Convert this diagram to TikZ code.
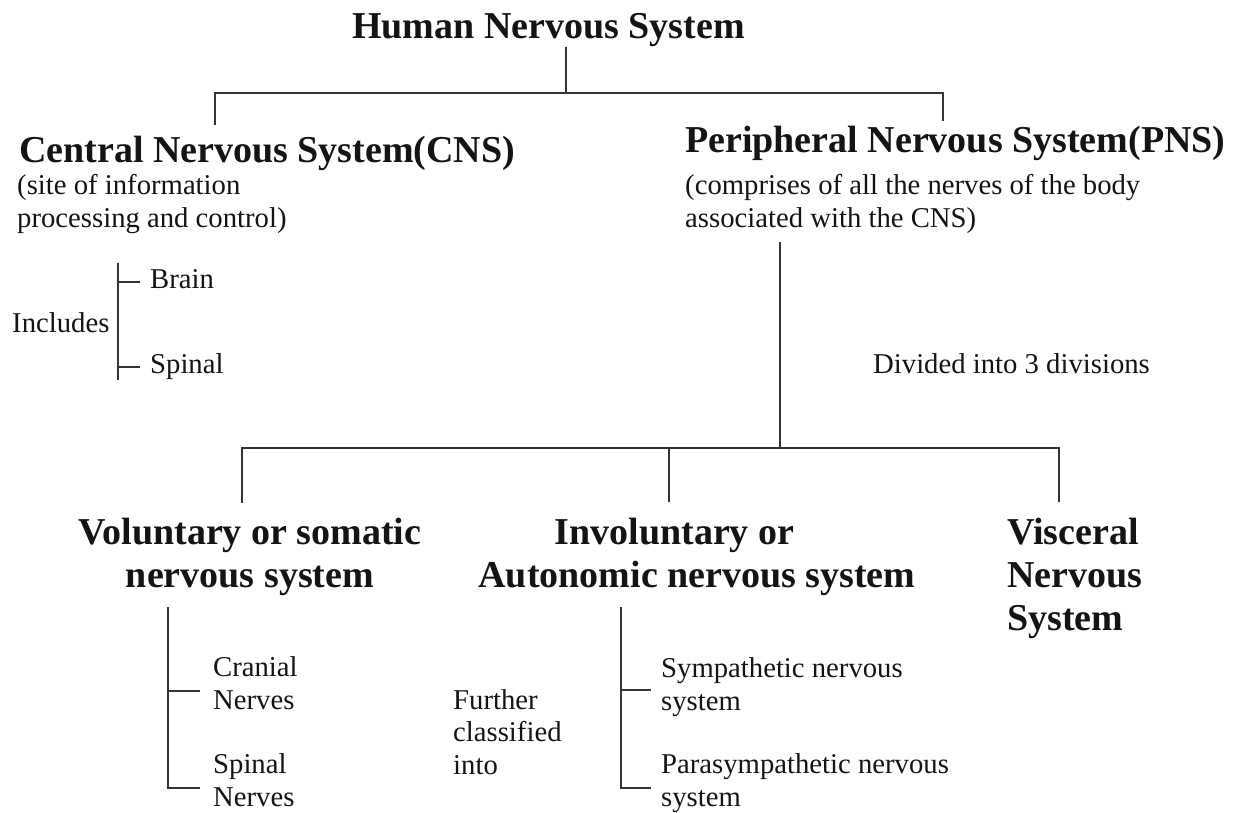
\documentclass[tikz,border=0pt]{standalone}
\usepackage{fontspec}
\setmainfont{Liberation Serif}
\definecolor{ink}{HTML}{141414}
\definecolor{wire}{HTML}{333333}
\begin{document}
\begin{tikzpicture}[x=1pt,y=-1pt,
  head/.style={font=\bfseries\fontsize{38}{43}\selectfont, inner sep=0pt, anchor=base west, align=left, text=ink},
  body/.style={font=\fontsize{28.7}{32.5}\selectfont, inner sep=0pt, anchor=base west, align=left, text=ink},
  link/.style={draw=wire, line width=1.8pt}]
\fill[white] (0,0) rectangle (1242,812);
\useasboundingbox (0,0) rectangle (1242,812);

% headings (multi-line nodes sit on the baseline of their last line)
\node[head] (hns) at (352,38) {Human Nervous System};
\node[head] (cns) at (19,162) {Central Nervous System(CNS)};
\node[head] (pns) at (685,152) {Peripheral Nervous System(PNS)};
\node[body] (cnsnote) at (17,227) {(site of information\\processing and control)};
\node[body] (pnsnote) at (685,227) {(comprises of all the nerves of the body\\associated with the CNS)};

% CNS parts
\node[body] (incl) at (12,332) {Includes};
\node[body] (brain) at (150,288) {Brain};
\node[body] (spinal) at (150,373) {Spinal};

\node[body] (divided) at (873,373) {Divided into 3 divisions};

% three divisions
\node[head, anchor=base, align=center] (som) at (250,587) {Voluntary or somatic\\nervous system};
\node[head, anchor=base, align=center] (aut) at (697,587) {Involuntary or\hspace*{45pt}\\Autonomic nervous system};
\node[head] (visc) at (1007,630) {Visceral\\Nervous\\System};

% sub-divisions
\node[body] (cran) at (213,709) {Cranial\\Nerves};
\node[body] (spn) at (213,806) {Spinal\\Nerves};
\node[body] (further) at (453,774) {Further\\classified\\into};
\node[body] (symp) at (661,710) {Sympathetic nervous\\system};
\node[body] (para) at (661,806) {Parasympathetic nervous\\system};

% tree: top level
\coordinate (hnsfoot) at (566,47);
\coordinate (split1) at (566,93);
\coordinate (cnstop) at (215,125);
\coordinate (pnstop) at (943,121);
\draw[link] (hnsfoot) -- (split1);
\draw[link] (cnstop) |- (split1) -| (pnstop);

% tree: PNS divisions
\coordinate (pnsfoot) at (780,242);
\coordinate (split2) at (780,448);
\coordinate (somtop) at (242,503);
\coordinate (auttop) at (669,502);
\coordinate (visctop) at (1059,502);
\draw[link] (pnsfoot) -- (split2);
\draw[link] (somtop) |- (split2) -| (visctop);
\draw[link] (auttop) -- (auttop |- split2);

% bracket: brain / spinal
\coordinate (b1top) at (118,263);
\coordinate (b1bot) at (118,380);
\draw[link] (b1top) -- (b1bot);
\draw[link] (118,282) -- (140,282);
\draw[link] (118,367) -- (140,367);

% bracket: cranial / spinal nerves
\coordinate (b2top) at (168,607);
\coordinate (b2bot) at (168,788);
\draw[link] (b2top) -- (b2bot) -- (200,788);
\draw[link] (168,691) -- (200,691);

% bracket: sympathetic / parasympathetic
\coordinate (b3top) at (621,607);
\coordinate (b3bot) at (621,788);
\draw[link] (b3top) -- (b3bot) -- (651,788);
\draw[link] (621,690) -- (651,690);
\end{tikzpicture}
\end{document}
